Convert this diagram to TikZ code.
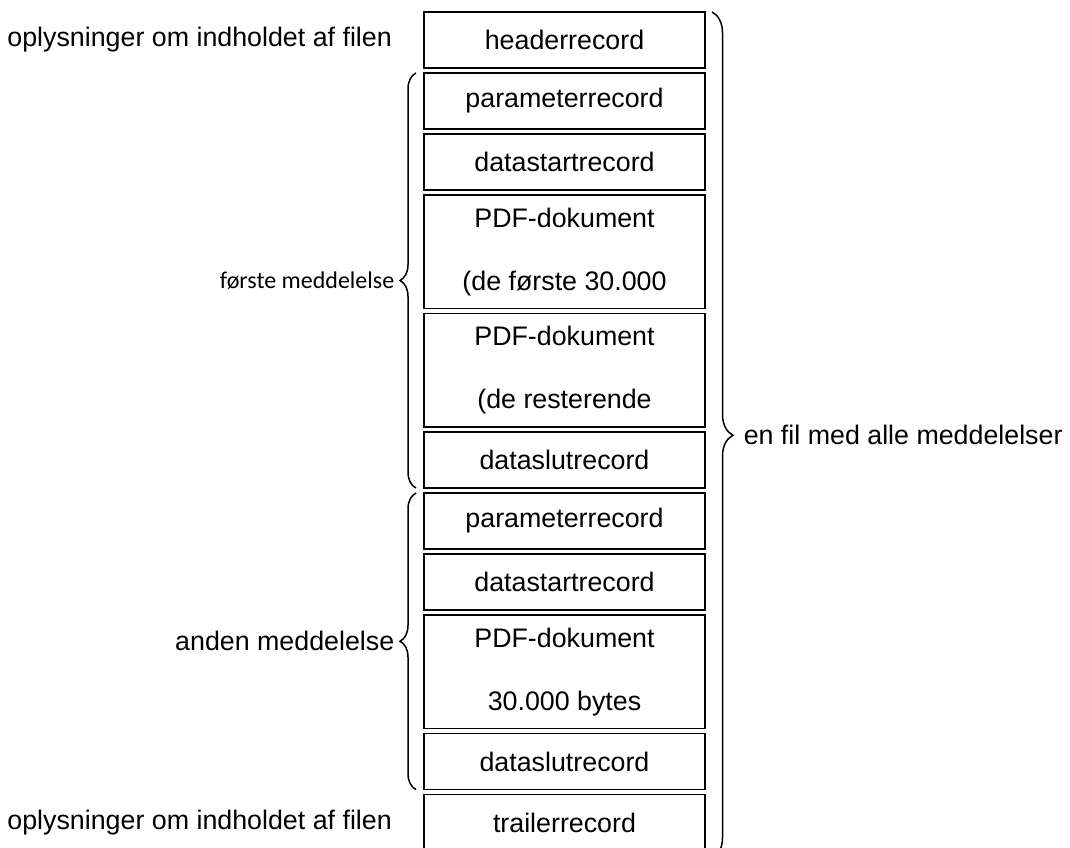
\documentclass[tikz,border=0pt]{standalone}
\usepackage{fontspec}
\setmainfont{Liberation Sans}
\newfontfamily\calibri{Carlito}
\usetikzlibrary{positioning,calc,decorations.pathreplacing}

\tikzset{
  rec/.style={draw, line width=1.8pt, minimum width=281pt, minimum height=56pt,
    inner sep=0pt, outer sep=0pt, align=center},
  pdfrec/.style={rec, minimum height=113.5pt},
  rbrace/.style={decorate, decoration={brace, amplitude=21pt}, line width=1.5pt},
  lbrace/.style={decorate, decoration={brace, amplitude=16pt}, line width=1.5pt},
  lbl/.style={inner sep=3pt}
}

\begin{document}
\begin{tikzpicture}[x=1pt, y=-1pt, node distance=5pt,
    font=\fontsize{26.8}{31}\selectfont]
  \useasboundingbox (0,0) rectangle (1070,847);

  \node[rec, anchor=north west] (head) at (424,12) {headerrecord};
  \node[rec, below=of head] (par1) {parameterrecord};
  \node[rec, below=of par1] (start1) {datastartrecord};
  \node[pdfrec, below=of start1] (pdf1) {PDF-dokument\\[32pt](de første 30.000};
  \node[pdfrec, below=of pdf1] (pdf2) {PDF-dokument\\[32pt](de resterende};
  \node[rec, below=of pdf2] (slut1) {dataslutrecord};
  \node[rec, below=of slut1] (par2) {parameterrecord};
  \node[rec, below=of par2] (start2) {datastartrecord};
  \node[pdfrec, below=of start2] (pdf3) {PDF-dokument\\[32pt]30.000 bytes};
  \node[rec, below=of pdf3] (slut2) {dataslutrecord};
  \node[rec, below=of slut2] (trail) {trailerrecord};

  \node[lbl, left=29pt of head] (headinfo) {oplysninger om indholdet af filen};
  \node[lbl, left=29pt of trail] (trailinfo) {oplysninger om indholdet af filen};

  % braces
  \draw[lbrace] ($(slut1.south west)+(-8,0)$) -- ($(par1.north west)+(-8,0)$)
    node[lbl, midway, left=18pt, font=\calibri\fontsize{24}{28}\selectfont] (msg1) {første meddelelse};
  \draw[lbrace] ($(slut2.south west)+(-8,0)$) -- ($(par2.north west)+(-8,0)$)
    node[lbl, midway, left=18pt] (msg2) {anden meddelelse};
  \draw[rbrace] ($(head.north east)+(7,0)$) -- ($(trail.south east)+(7,8)$)
    node[lbl, midway, right=28pt] (allmsg) {en fil med alle meddelelser};
\end{tikzpicture}
\end{document}
